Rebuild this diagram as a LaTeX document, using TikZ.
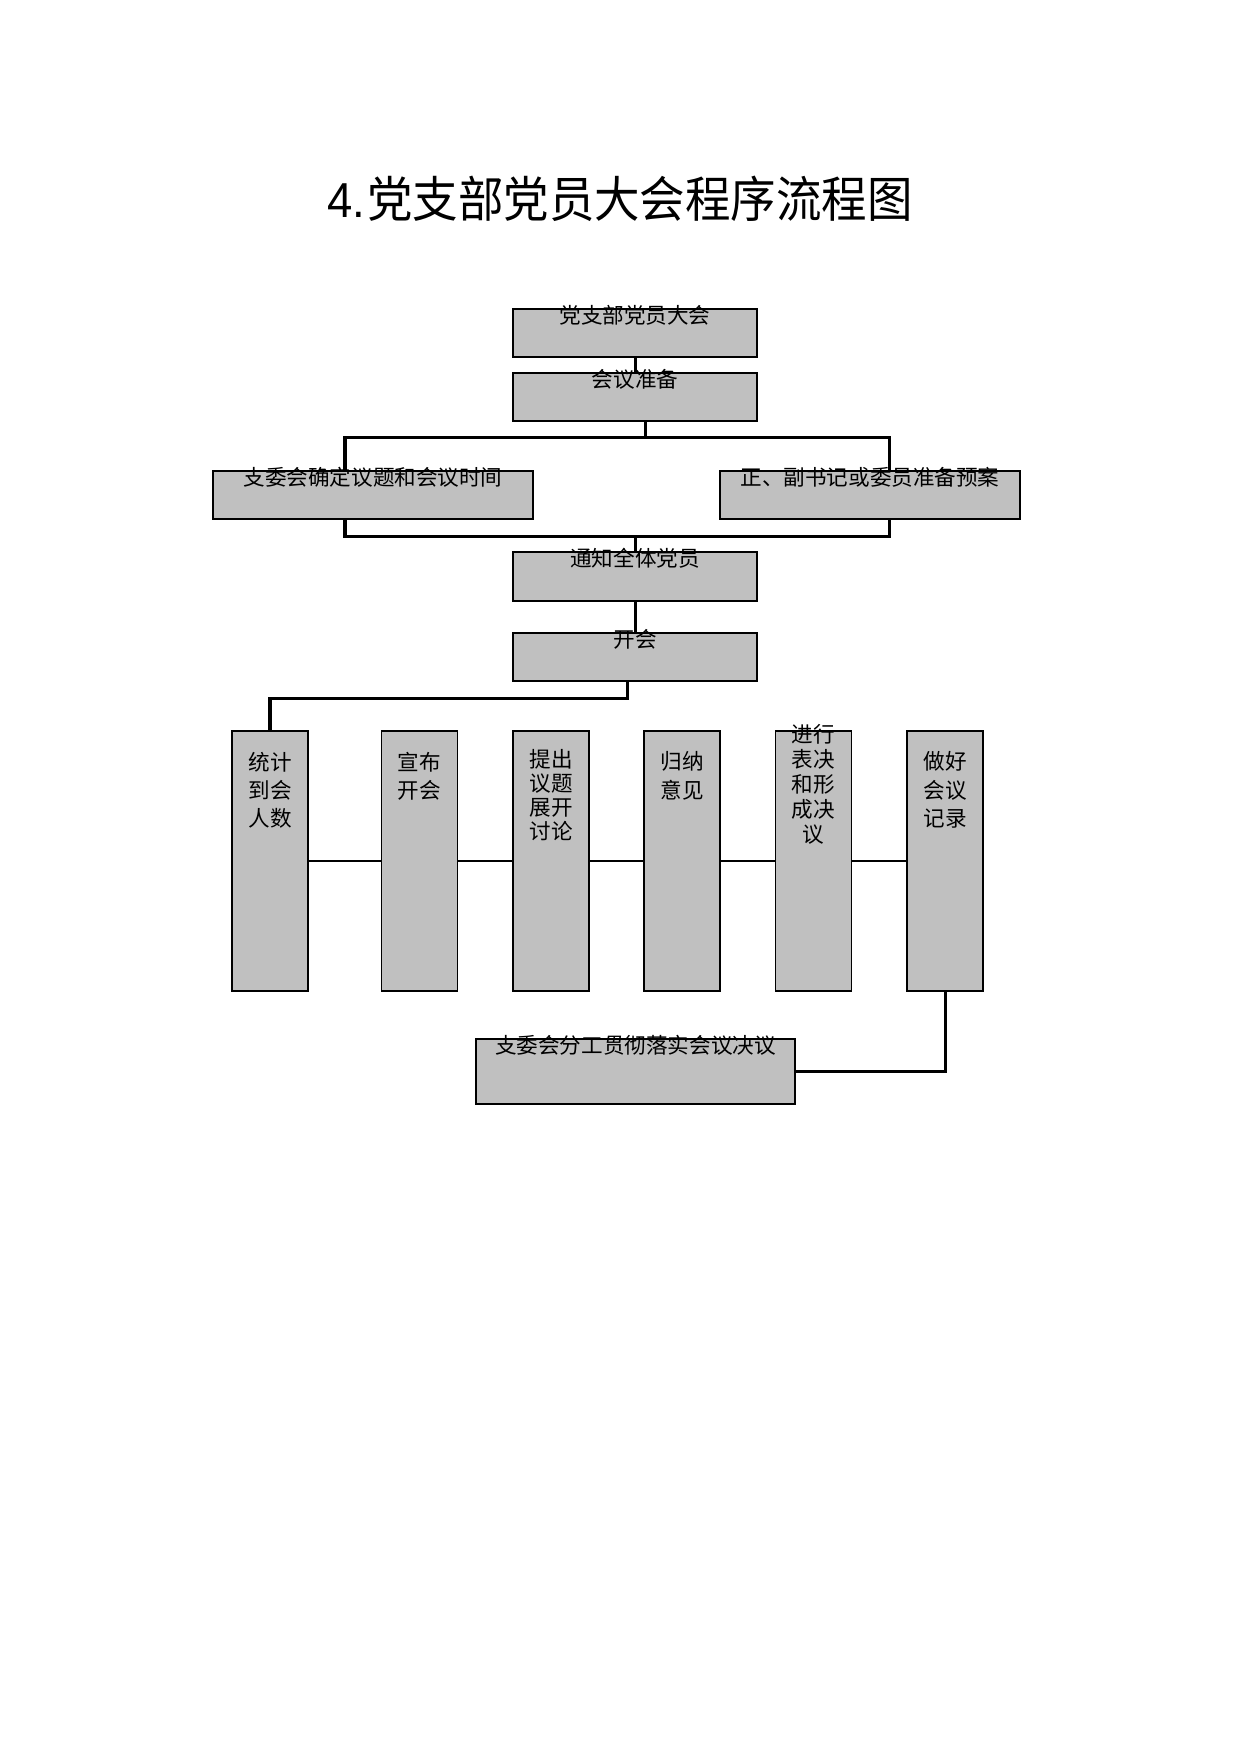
\documentclass[tikz,border=0pt]{standalone}
\usepackage{fontspec}
\setmainfont{Noto Sans CJK SC}
\newfontfamily\digitfont{Liberation Sans}
\usepackage{tikz}
\definecolor{boxgray}{HTML}{C0C0C0}
\newcommand{\pxu}{0.16935mm}
\tikzset{
  box/.style 2 args={draw=black, fill=boxgray, line width=0.6pt, inner sep=0pt,
    minimum width=#1*\pxu, minimum height=#2*\pxu},
  boxtext/.style={font=\fontsize{10.4}{13.7}\selectfont, inner sep=0pt, align=center,
    anchor=center, yshift=-7*\pxu},
  talltext/.style={font=\fontsize{10.4}{#1}\selectfont, inner sep=0pt, align=center,
    anchor=north},
  link/.style={draw, line width=1.45pt},
  rowlink/.style={draw, line width=1pt}
}

\begin{document}
\begin{tikzpicture}[x=0.16935mm, y=-0.16935mm]
  \useasboundingbox (0, 0) rectangle (1240, 1754);

  \node[font=\fontsize{21.9}{26}\selectfont, yscale=1.08] at (620, 199) (title) {{\digitfont 4.}\kern1pt 党支部党员大会程序流程图};

  % upper chain
  \node[box={244}{48}, label={[boxtext]north:党支部党员大会}]         at (635, 333)   (dzb)  {};
  \node[box={244}{48}, label={[boxtext]north:会议准备}]               at (635, 397)   (zb)   {};
  \node[box={320}{48}, label={[boxtext]north:支委会确定议题和会议时间}] at (373, 495)   (zwh)  {};
  \node[box={300}{48}, label={[boxtext]north:正、副书记或委员准备预案}] at (870, 495)   (sj)   {};
  \node[box={244}{49}, label={[boxtext]north:通知全体党员}]           at (635, 576.5) (tz)   {};
  \node[box={244}{48}, label={[boxtext]north:开会}]                   at (635, 657)   (kh)   {};

  % meeting steps
  \node[box={76}{260}, label={[talltext=13.7pt, yshift=-21*\pxu]north:统计\\到会\\人数}]           at (270, 861)   (t1) {};
  \node[box={76}{260}, label={[talltext=13.7pt, yshift=-21*\pxu]north:宣布\\开会}]                 at (419.5, 861) (t2) {};
  \node[box={76}{260}, label={[talltext=11.5pt, yshift=-19*\pxu]north:提出\\议题\\展开\\讨论}]     at (551, 861)   (t3) {};
  \node[box={76}{260}, label={[talltext=13.7pt, yshift=-21*\pxu]north:归纳\\意见}]                 at (682, 861)   (t4) {};
  \node[box={76}{260}, label={[talltext=12pt, yshift=6*\pxu]north:进行\\表决\\和形\\成决\\议}]     at (813.5, 861) (t5) {};
  \node[box={76}{260}, label={[talltext=13.7pt, yshift=-21*\pxu]north:做好\\会议\\记录}]           at (945, 861)   (t6) {};

  \node[box={319}{65}, label={[boxtext]north:支委会分工贯彻落实会议决议}] at (635.5, 1071.5) (ls) {};

  \coordinate (fen)  at (645, 437);
  \coordinate (fenL) at (345, 437);
  \coordinate (fenR) at (889, 437);
  \coordinate (heL)  at (345, 536);
  \coordinate (heR)  at (889, 536);
  \coordinate (kai)  at (627, 698);

  \draw[link] (dzb) -- (zb);
  \draw[link] (zb.south -| fen) -- (fen);
  \draw[link] (zwh.north -| fenL) -- (fenL) -- (fenR) -- (sj.north -| fenR);
  \draw[link] (zwh.south -| heL) -- (heL) -- (heR) -- (sj.south -| heR);
  \draw[link] (heL -| tz.north) -- (tz.north);
  \draw[link] (tz) -- (kh);
  \draw[link] (kh.south -| kai) -- (kai) -| (t1.north);

  \draw[rowlink] (t1) -- (t2);
  \draw[rowlink] (t2) -- (t3);
  \draw[rowlink] (t3) -- (t4);
  \draw[rowlink] (t4) -- (t5);
  \draw[rowlink] (t5) -- (t6);

  \draw[link] (t6.south) |- (ls.east);
\end{tikzpicture}
\end{document}
